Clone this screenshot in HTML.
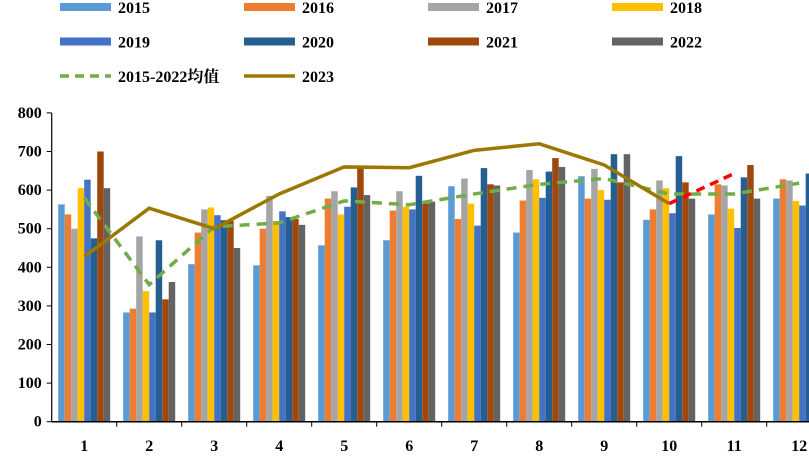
<!DOCTYPE html>
<html><head><meta charset="utf-8"><style>
html,body{margin:0;padding:0;background:#fff;}
svg text{font-family:"Liberation Serif","Noto Serif CJK SC",serif;font-weight:bold;font-size:16px;fill:#000;}
</style></head><body>
<svg id="chart" width="809" height="451" xmlns="http://www.w3.org/2000/svg"></svg>
<script>
const months=["1","2","3","4","5","6","7","8","9","10","11","12"];
const seriesNames=["2015","2016","2017","2018","2019","2020","2021","2022"];
const colors=["#5B9BD5","#ED7D31","#A5A5A5","#FFC000","#4472C4","#255E91","#9E480E","#636363"];
const s2015=[563,283,408,405,457,470,610,490,636,523,537,578];
const s2016=[537,293,490,500,578,547,525,573,578,550,615,628];
const s2017=[500,480,550,585,597,597,630,652,655,625,612,625];
const s2018=[605,338,555,520,537,557,565,628,600,605,552,572];
const s2019=[627,283,535,545,557,550,508,580,575,540,502,560];
const s2020=[475,470,522,530,607,637,657,648,693,688,633,643];
const s2021=[700,317,520,525,658,565,615,683,620,620,665,610];
const s2022=[605,362,450,510,587,570,612,660,693,578,578,590];
const avgValues=[580,355,505,515,572,562,590,615,630,590,590,618];
const y2023=[427,553,500,590,660,658,703,720,665,565,null,null];
const forecast=[null,null,null,null,null,null,null,null,null,565,643,null];
const yTicks=[0,100,200,300,400,500,600,700,800];

const svg=document.getElementById('chart');
const NS='http://www.w3.org/2000/svg';
const x0=51.7,catW=65,y0=421.7,yScale=0.386;
const Y=v=>y0-v*yScale;
const XC=i=>x0+catW*(i+0.5);
function mk(tag,attrs,parent){const e=document.createElementNS(NS,tag);for(const k in attrs)e.setAttribute(k,attrs[k]);(parent||svg).appendChild(e);return e;}

const allSeries=[s2015,s2016,s2017,s2018,s2019,s2020,s2021,s2022];
const barW=6.5;
const gBars=mk('g',{});


allSeries.forEach((arr,si)=>{
  arr.forEach((v,i)=>{
    const x=x0+catW*i+catW/2-4*barW+si*barW;
    const r=mk('rect',{x:x,y:Y(v),width:barW,height:v*yScale,fill:colors[si]},gBars);
    
    
  });
});

function linePath(arr){let d='';let pen=false;arr.forEach((v,i)=>{if(v==null){pen=false;return;}d+=(pen?'L':'M')+XC(i)+' '+Y(v)+' ';pen=true;});return d;}
const avgLine=mk('path',{d:linePath(avgValues),fill:'none',stroke:'#70AD47','stroke-width':3.5,'stroke-dasharray':'10 7'});


const l23=mk('path',{d:linePath(y2023),fill:'none',stroke:'#9C7800','stroke-width':3.5});


const fl=mk('path',{d:linePath(forecast),fill:'none',stroke:'#FF0000','stroke-width':3.5,'stroke-dasharray':'9 6'});



// axes
const ya=mk('line',{x1:x0,y1:Y(800),x2:x0,y2:y0,stroke:'#000','stroke-width':1.2});


yTicks.forEach(t=>{
  mk('line',{x1:x0-5,y1:Y(t),x2:x0,y2:Y(t),stroke:'#000'});
  const tx=mk('text',{x:x0-10,y:Y(t)+5,'text-anchor':'end'});
  tx.textContent=t;
  
  
});
const xa=mk('line',{x1:x0,y1:y0,x2:809,y2:y0,stroke:'#000','stroke-width':1.5});


months.forEach((m,i)=>{
  mk('line',{x1:x0+catW*(i+1),y1:y0,x2:x0+catW*(i+1),y2:y0+5,stroke:'#000'});
  const tx=mk('text',{x:XC(i),y:451,'text-anchor':'middle'});
  tx.textContent=m;
  
  
});

// legend
const leg=mk('g',{});


seriesNames.forEach((n,i)=>{
  const col=i%4,row=Math.floor(i/4);
  const lx=60+col*184,ly=7+row*34.5;
  const r=mk('rect',{x:lx,y:ly-4,width:51,height:8,fill:colors[i]},leg);
  
  
  const t=mk('text',{x:lx+58,y:ly+6},leg);
  t.textContent=n;
  
  
});
const la=mk('line',{x1:60,y1:76,x2:111,y2:76,stroke:'#70AD47','stroke-width':3.5,'stroke-dasharray':'9 6'},leg);


const lat=mk('text',{x:118,y:82},leg);lat.textContent='2015-2022均值';


const lb=mk('line',{x1:244,y1:76,x2:295,y2:76,stroke:'#9C7800','stroke-width':3.5},leg);


const lbt=mk('text',{x:302,y:82},leg);lbt.textContent='2023';


</script>
</body></html>
